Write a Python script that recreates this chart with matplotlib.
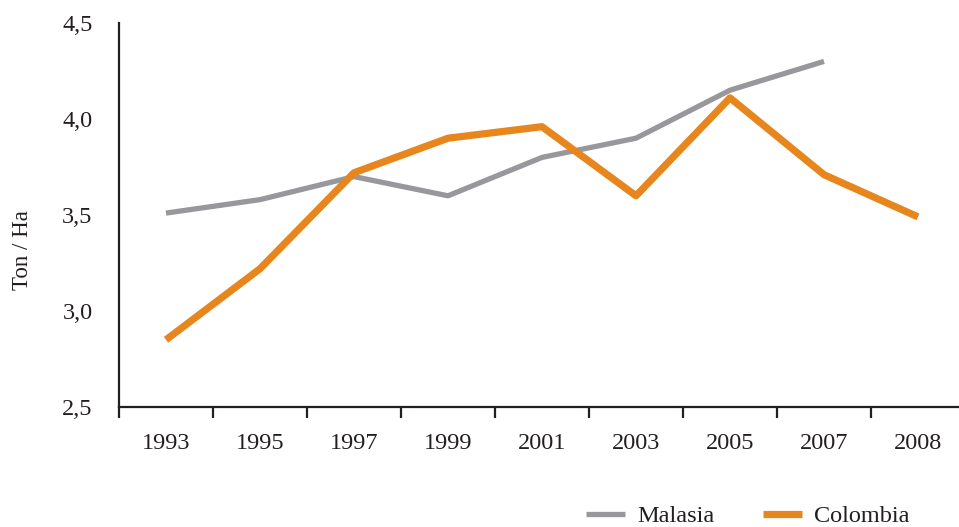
import matplotlib
matplotlib.use('Agg')
import matplotlib.pyplot as plt
import numpy as np

years = ['1993', '1995', '1997', '1999', '2001', '2003', '2005', '2007', '2008']
malasia = [3.51, 3.58, 3.70, 3.60, 3.80, 3.90, 4.15, 4.30, np.nan]
colombia = [2.85, 3.22, 3.72, 3.90, 3.96, 3.60, 4.11, 3.71, 3.49]
yticks = [2.5, 3.0, 3.5, 4.0, 4.5]

GRAY = '#98989c'
ORANGE = '#e8861e'
DARK = '#231f20'

plt.rcParams['font.family'] = ['Liberation Serif', 'DejaVu Serif']

fig = plt.figure(figsize=(9.59, 5.27), dpi=100)
W, H = 959., 527.
# axes from x=119 to right edge, y=23 to y=407
ax = fig.add_axes([119 / W, 1 - 407 / H, 1 - 119 / W, (407 - 23) / H])

x = np.arange(len(years))
ax.plot(x, malasia, color=GRAY, lw=3.8, solid_capstyle='butt', label='Malasia')
ax.plot(x, colombia, color=ORANGE, lw=5.2, solid_capstyle='butt', label='Colombia')

ax.set_ylim(2.5, 4.5)
ax.set_xlim(-0.5, -0.5 + 840 / 94.)

for s in ['top', 'right']:
    ax.spines[s].set_visible(False)
for s in ['left', 'bottom']:
    ax.spines[s].set_color(DARK)
    ax.spines[s].set_linewidth(1.6)

# x ticks at category boundaries, labels at centers
ax.set_xticks(x - 0.5)
ax.set_xticklabels([])
ax.tick_params(axis='x', which='major', direction='out', length=8, width=1.6, color=DARK)
ax.set_xticks(x, minor=True)
ax.set_xticklabels(years, minor=True, fontsize=17.5, color=DARK)
ax.tick_params(axis='x', which='minor', length=0, pad=19)

ax.set_yticks(yticks)
ax.set_yticklabels([('%.1f' % v).replace('.', ',') for v in yticks], fontsize=17.5, color=DARK)
ax.tick_params(axis='y', which='major', length=0, pad=19)
ax.set_yticks([2.5], minor=True)
ax.tick_params(axis='y', which='minor', direction='out', length=7, width=1.6, color=DARK)

fig.text(22 / W, 1 - 250 / H, 'Ton / Ha', rotation=90, ha='center', va='center',
         fontsize=16.5, color=DARK)

fig.legend(loc='center', bbox_to_anchor=(748 / W, 1 - 516 / H), ncol=2, frameon=False,
           fontsize=17.5, handlelength=1.6, columnspacing=2.0, handletextpad=0.5,
           labelcolor=DARK)

fig.savefig('out.png', dpi=100)
